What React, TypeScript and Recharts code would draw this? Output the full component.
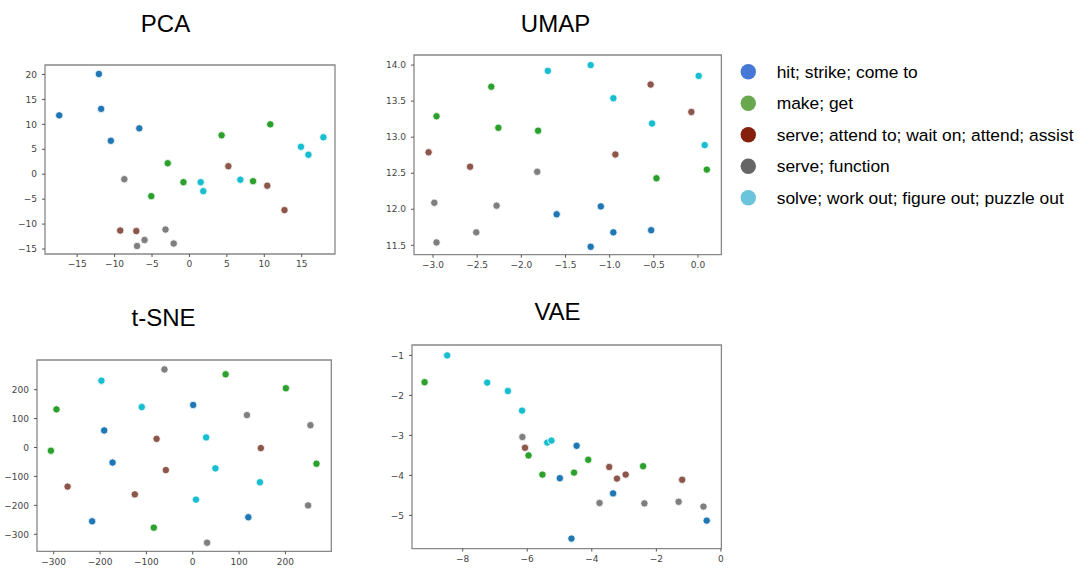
import { ReferenceArea, Scatter, ScatterChart, XAxis, YAxis } from "recharts";

type Pt = [number, number];

const CLASSES = [
  "hit; strike; come to",
  "make; get",
  "serve; attend to; wait on; attend; assist",
  "serve; function",
  "solve; work out; figure out; puzzle out",
];
const POINT_COLORS = ["#1f77b4", "#2ca02c", "#8c564b", "#7f7f7f", "#17becf"];
const LEGEND_COLORS = ["#4679d6", "#6aa84f", "#85200c", "#666666", "#6cc3dc"];

// PCA
const PCA_HIT: Pt[] = [[-17.4, 11.8], [-12.1, 20.1], [-11.8, 13.1], [-10.5, 6.7], [-6.7, 9.2]];
const PCA_MAKE: Pt[] = [[-5.1, -4.4], [-2.9, 2.2], [-0.8, -1.6], [4.3, 7.8], [8.5, -1.4], [10.8, 10.0]];
const PCA_ATTEND: Pt[] = [[-9.25, -11.3], [-7.1, -11.4], [5.2, 1.6], [10.4, -2.3], [12.7, -7.2]];
const PCA_FUNCTION: Pt[] = [[-8.7, -1.0], [-7.0, -14.4], [-6.0, -13.2], [-3.2, -11.1], [-2.1, -13.9]];
const PCA_SOLVE: Pt[] = [[1.5, -1.6], [1.85, -3.4], [6.8, -1.1], [14.9, 5.5], [15.9, 3.9], [17.9, 7.4]];

// UMAP
const UMAP_HIT: Pt[] = [[-1.6, 11.93], [-1.1, 12.04], [-1.215, 11.48], [-0.958, 11.68], [-0.53, 11.71]];
const UMAP_MAKE: Pt[] = [[-2.96, 13.29], [-2.34, 13.7], [-2.26, 13.13], [-1.81, 13.09], [-0.47, 12.43], [0.1, 12.55]];
const UMAP_ATTEND: Pt[] = [[-3.05, 12.79], [-2.58, 12.59], [-0.935, 12.76], [-0.536, 13.73], [-0.075, 13.35]];
const UMAP_FUNCTION: Pt[] = [[-2.985, 12.09], [-2.96, 11.54], [-2.51, 11.68], [-2.28, 12.05], [-1.82, 12.52]];
const UMAP_SOLVE: Pt[] = [[-1.7, 13.92], [-1.215, 14.0], [-0.958, 13.54], [-0.52, 13.19], [0.008, 13.85], [0.076, 12.89]];

// t-SNE
const TSNE_HIT: Pt[] = [[1, 147], [-191, 59], [-173, -52], [-217, -255], [120, -241]];
const TSNE_MAKE: Pt[] = [[-294, 132], [-306, -11], [71, 253], [201, 205], [267, -56], [-84, -277]];
const TSNE_ATTEND: Pt[] = [[-78, 30], [-58, -78], [-270, -135], [-125, -162], [147, -2]];
const TSNE_FUNCTION: Pt[] = [[-61, 270], [117, 112], [254, 77], [249, -200], [31, -329]];
const TSNE_SOLVE: Pt[] = [[-197, 231], [-110, 140], [29, 35], [49, -72], [145, -120], [7, -180]];

// VAE
const VAE_HIT: Pt[] = [[-4.99, -4.07], [-4.47, -3.26], [-3.34, -4.45], [-4.63, -5.58], [-0.44, -5.13]];
const VAE_MAKE: Pt[] = [[-9.18, -1.67], [-5.96, -3.5], [-5.53, -3.98], [-4.55, -3.93], [-4.11, -3.61], [-2.41, -3.77]];
const VAE_ATTEND: Pt[] = [[-6.07, -3.31], [-3.46, -3.79], [-3.22, -4.08], [-2.95, -3.98], [-1.2, -4.11]];
const VAE_FUNCTION: Pt[] = [[-6.15, -3.04], [-3.76, -4.69], [-2.37, -4.7], [-1.31, -4.66], [-0.54, -4.78]];
const VAE_SOLVE: Pt[] = [[-8.48, -1.0], [-7.24, -1.68], [-6.6, -1.89], [-6.16, -2.38], [-5.38, -3.18], [-5.25, -3.13]];

const PCA_X_TICKS = [-15, -10, -5, 0, 5, 10, 15];
const PCA_Y_TICKS = [-15, -10, -5, 0, 5, 10, 15, 20];
const UMAP_X_TICKS = [-3, -2.5, -2, -1.5, -1, -0.5, 0];
const UMAP_Y_TICKS = [11.5, 12, 12.5, 13, 13.5, 14];
const TSNE_X_TICKS = [-300, -200, -100, 0, 100, 200];
const TSNE_Y_TICKS = [-300, -200, -100, 0, 100, 200];
const VAE_X_TICKS = [-8, -6, -4, -2, 0];
const VAE_Y_TICKS = [-5, -4, -3, -2, -1];

const YW = 50;
const XH = 25;
const TICK_STYLE = { fontSize: 9, fill: "#444", fontFamily: "DejaVu Sans" };

const fmt = (digits: number) => (v: number) =>
  (v < 0 ? "\u2212" : "") + Math.abs(v).toFixed(digits);

function Panel({
  frame,
  xDomain,
  yDomain,
  xTicks,
  yTicks,
  xDigits,
  yDigits,
  series,
}: {
  frame: [number, number, number, number];
  xDomain: [number, number];
  yDomain: [number, number];
  xTicks: number[];
  yTicks: number[];
  xDigits: number;
  yDigits: number;
  series: Pt[][];
}) {
  const [x0, y0, x1, y1] = frame;
  const width = x1 - x0 + YW + 4;
  const height = y1 - y0 + 4 + XH;
  return (
    <div style={{ position: "absolute", left: x0 - YW, top: y0 - 4 }}>
      <ScatterChart width={width} height={height} margin={{ top: 4, right: 4, left: 0, bottom: 0 }}>
        <XAxis
          type="number"
          dataKey="x"
          domain={xDomain}
          ticks={xTicks}
          allowDataOverflow
          axisLine={false}
          tickSize={3}
          tickMargin={4}
          height={XH}
          tick={TICK_STYLE}
          tickLine={{ stroke: "#555" }}
          tickFormatter={fmt(xDigits)}
          interval={0}
        />
        <YAxis
          type="number"
          dataKey="y"
          domain={yDomain}
          ticks={yTicks}
          allowDataOverflow
          axisLine={false}
          tickSize={3}
          tickMargin={5}
          width={YW}
          tick={TICK_STYLE}
          tickLine={{ stroke: "#555" }}
          tickFormatter={fmt(yDigits)}
          interval={0}
        />
        <ReferenceArea
          x1={xDomain[0]}
          x2={xDomain[1]}
          y1={yDomain[0]}
          y2={yDomain[1]}
          fill="none"
          fillOpacity={0}
          stroke="#888"
          strokeWidth={1.3}
          ifOverflow="visible"
        />
        {series.map((pts, i) => (
          <Scatter
            key={CLASSES[i]}
            name={CLASSES[i]}
            data={pts.map(([x, y]) => ({ x, y }))}
            isAnimationActive={false}
            shape={(p: any) => (
              <circle cx={p.cx} cy={p.cy} r={3.7} fill={POINT_COLORS[i]} stroke="#fff" strokeWidth={0.8} />
            )}
          />
        ))}
      </ScatterChart>
    </div>
  );
}

const TITLES: { text: string; x: number; y: number }[] = [
  { text: "PCA", x: 165.5, y: 32 },
  { text: "UMAP", x: 555.5, y: 32 },
  { text: "t-SNE", x: 163.5, y: 325.5 },
  { text: "VAE", x: 557.5, y: 319.5 },
];

export default function App() {
  return (
    <div style={{ position: "absolute", left: 0, top: 0, width: 1078, height: 568, background: "#fff", overflow: "hidden" }}>
      <Panel
        frame={[45, 65, 335, 254]}
        xDomain={[-19.3, 19.45]}
        yDomain={[-16, 21.9]}
        xTicks={PCA_X_TICKS}
        yTicks={PCA_Y_TICKS}
        xDigits={0}
        yDigits={0}
        series={[PCA_HIT, PCA_MAKE, PCA_ATTEND, PCA_FUNCTION, PCA_SOLVE]}
      />
      <Panel
        frame={[414.3, 55.3, 721.7, 255]}
        xDomain={[-3.215, 0.265]}
        yDomain={[11.37, 14.14]}
        xTicks={UMAP_X_TICKS}
        yTicks={UMAP_Y_TICKS}
        xDigits={1}
        yDigits={1}
        series={[UMAP_HIT, UMAP_MAKE, UMAP_ATTEND, UMAP_FUNCTION, UMAP_SOLVE]}
      />
      <Panel
        frame={[36.7, 359.7, 331, 551]}
        xDomain={[-336, 299]}
        yDomain={[-358.7, 302.5]}
        xTicks={TSNE_X_TICKS}
        yTicks={TSNE_Y_TICKS}
        xDigits={0}
        yDigits={0}
        series={[TSNE_HIT, TSNE_MAKE, TSNE_ATTEND, TSNE_FUNCTION, TSNE_SOLVE]}
      />
      <Panel
        frame={[412.3, 344.7, 721.7, 548.3]}
        xDomain={[-9.57, 0.015]}
        yDomain={[-5.83, -0.74]}
        xTicks={VAE_X_TICKS}
        yTicks={VAE_Y_TICKS}
        xDigits={0}
        yDigits={0}
        series={[VAE_HIT, VAE_MAKE, VAE_ATTEND, VAE_FUNCTION, VAE_SOLVE]}
      />
      <svg
        width={1078}
        height={568}
        style={{ position: "absolute", left: 0, top: 0, pointerEvents: "none" }}
      >
        {TITLES.map((t) => (
          <text
            key={t.text}
            x={t.x}
            y={t.y}
            textAnchor="middle"
            fontFamily="Liberation Sans, Arial, sans-serif"
            fontSize={24}
            fill="#000"
          >
            {t.text}
          </text>
        ))}
        {CLASSES.map((c, i) => {
          const cy = 71.7 + i * 31.5;
          return (
            <g key={c}>
              <circle cx={748.3} cy={cy} r={7.7} fill={LEGEND_COLORS[i]} />
              <text
                x={776.7}
                y={cy + 6.2}
                fontFamily="Liberation Sans, Arial, sans-serif"
                fontSize={17.4}
                fill="#000"
              >
                {c}
              </text>
            </g>
          );
        })}
      </svg>
    </div>
  );
}
